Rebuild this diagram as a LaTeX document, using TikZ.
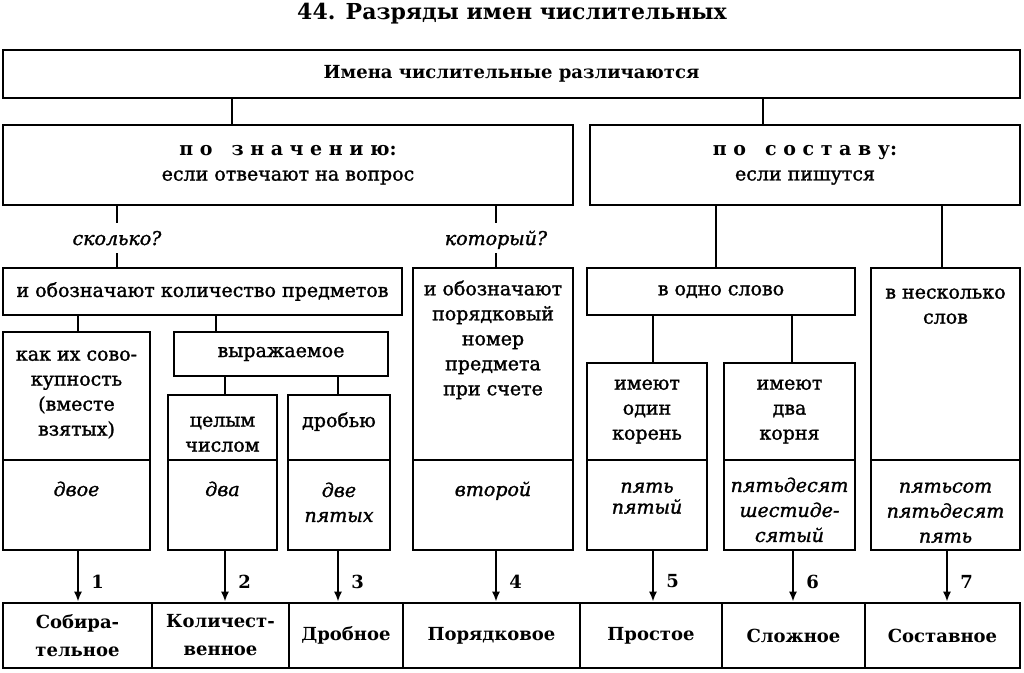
\documentclass[tikz,border=0pt]{standalone}
\usepackage{fontspec}
\setmainfont{DejaVu Serif}[UprightFeatures={FakeBold=1.4},ItalicFeatures={FakeBold=1.4}]
\usetikzlibrary{positioning,arrows.meta}

\begin{document}
\begin{tikzpicture}[x=1pt,y=-1pt,line width=2.6pt,
  box/.style 2 args={draw,inner sep=0pt,minimum width=#1,minimum height=#2},
  txt/.style={font=\fontsize{19}{25}\selectfont,align=center,inner sep=0pt},
  head/.style={font=\fontsize{18}{28}\selectfont\bfseries,align=center,inner sep=0pt},
  ex/.style={font=\fontsize{19}{25}\selectfont\itshape,align=center,inner sep=0pt},
  intop/.style={execute at begin node=\strut},
  ask/.style={ex,inner ysep=7pt,text height=14pt,text depth=0pt},
  arr/.style={-{Latex[length=10pt,width=8pt]}}]
\path[use as bounding box,fill=white] (0,0) rectangle (1024,672);

\node[head,font=\fontsize{22}{26}\selectfont\bfseries] (title) at (512,14) {44. Разряды имен числительных};

% first levels
\node[box={1017}{48},head] (main) at (511.5,74) {Имена числительные различаются};
\node[box={570}{80},txt] (mean) at (288,165) {{\bfseries п о\quad з н а ч е н и ю:}\\если отвечают на вопрос};
\node[box={430}{80},txt] (comp) at (805,165) {{\bfseries п о\quad с о с т а в у:}\\если пишутся};
\node[ask] (howmany) at (117,238) {сколько?};
\node[ask] (which) at (496,238) {который?};

\node[box={399}{47},txt] (qty) at (202.5,291.5) {и обозначают количество предметов};
\node[box={160}{192}] (ordTop) at (493,364) {};
\node[box={160}{90}] (ordEx) at (493,505) {};
\node[box={268}{47},txt] (one) at (721,291.5) {в одно слово};
\node[box={149}{192}] (manyTop) at (945.5,364) {};
\node[box={149}{90}] (manyEx) at (945.5,505) {};

\node[box={147}{128}] (collTop) at (76.5,396) {};
\node[box={147}{90}] (collEx) at (76.5,505) {};
\node[box={214}{44},txt] (expr) at (281,354) {выражаемое};
\node[box={109}{65}] (wholeTop) at (222.5,427.5) {};
\node[box={109}{90}] (wholeEx) at (222.5,505) {};
\node[box={102}{65}] (fracTop) at (339,427.5) {};
\node[box={102}{90}] (fracEx) at (339,505) {};
\node[box={120}{97}] (rootaTop) at (647,411.5) {};
\node[box={120}{90}] (rootaEx) at (647,505) {};
\node[box={131}{97}] (rootbTop) at (789.5,411.5) {};
\node[box={131}{90}] (rootbEx) at (789.5,505) {};

% texts at the top of the tall boxes
\foreach \b/\d/\t in {collTop/18.5/{как их сово-\\купность\\(вместе\\взятых)},
  wholeTop/21.5/{целым\\числом}, fracTop/14.5/дробью,
  ordTop/12.5/{и обозначают\\порядковый\\номер\\предмета\\при счете},
  manyTop/20.5/{в несколько\\слов}, rootaTop/16.5/{имеют\\один\\корень},
  rootbTop/16.5/{имеют\\два\\корня}} {
   \node[txt,intop,below=\d pt of \b.north] (\b Txt) {\t};
}
\foreach \b/\d/\t in {collEx/18.5/двое, wholeEx/18.5/два, fracEx/22.5/{две\\пятых},
  ordEx/18.5/второй, rootaEx/22.5/{пять\\[-4pt]пятый},
  rootbEx/17.5/{пятьдесят\\шестиде-\\сятый}, manyEx/22.5/{пятьсот\\пятьдесят\\пять}} {
   \node[ex,intop,below=\d pt of \b.north] (\b Txt) {\t};
}

% connectors
\foreach \a/\b/\dx in {main/mean/-56, main/comp/-42, comp/one/-5, comp/manyTop/-3.5,
  qty/collTop/1.5, qty/expr/-65, expr/wholeTop/2.5, expr/fracTop/-1,
  one/rootaTop/6, one/rootbTop/2.5} {
   \draw ([xshift=\dx pt]\b.north) -- ([xshift=\dx pt]\b.north |- \a.south);
}
\draw (howmany) -- (howmany |- mean.south) (howmany) -- (howmany |- qty.north);
\draw (which) -- (which |- mean.south) (which) -- (which |- ordTop.north);

% kinds
\foreach \n/\cx/\w/\t in {1/77.5/149/{Собира-\\тельное}, 2/220.5/137/{Количест-\\венное},
  3/346/114/Дробное, 4/491.5/177/Порядковое, 5/651/142/Простое,
  6/793.5/143/Сложное, 7/942.5/155/Составное} {
   \node[box={\w}{65},head] (kind\n) at (\cx,635.5) {\t};
}
\foreach \s/\n/\dx in {collEx/1/1.5, wholeEx/2/2.5, fracEx/3/-1, ordEx/4/3,
  rootaEx/5/6, rootbEx/6/3.5, manyEx/7/1.5} {
   \draw[arr] ([xshift=\dx pt]\s.south) -- ([xshift=\dx pt]\s.south |- kind\n.north)
      node[head,pos=0.6,right=12pt] (num\n) {\n};
}
\end{tikzpicture}
\end{document}
